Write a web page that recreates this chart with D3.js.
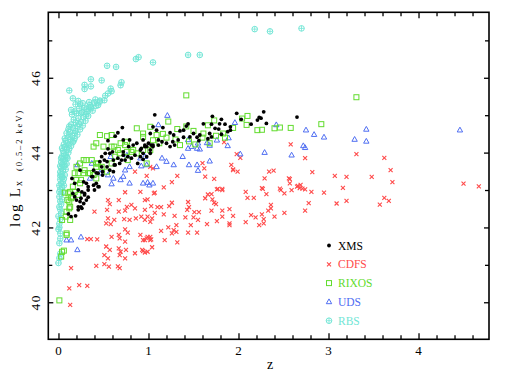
<!DOCTYPE html>
<html><head><meta charset="utf-8">
<script src="https://cdn.jsdelivr.net/npm/d3@7"></script>
<style>html,body{margin:0;padding:0;background:#fff;}svg{display:block;}</style>
</head><body>
<script>
// ---------------- data ----------------
const xMajorTicks = [0, 1, 2, 3, 4];
const xMinorTicks = [0.2,0.4,0.6,0.8,1.2,1.4,1.6,1.8,2.2,2.4,2.6,2.8,3.2,3.4,3.6,3.8,4.2,4.4,4.6];
const yMajorTicks = [40, 42, 44, 46];
const yMinorTicks = [41, 43, 45, 47];
const seriesNames = ["XMS", "CDFS", "RIXOS", "UDS", "RBS"];

const xmsData = [
[2.65,44.95],[1.07,45.01],[1.71,44.97],[1.98,45.05],[2.03,44.89],[2.28,45.09],[2.23,44.94],[2.21,44.87],[2.31,44.78],[2.14,44.76],
[1.09,44.60],[1.16,44.67],[1.44,44.77],[1.42,44.71],[1.39,44.60],[1.35,44.58],[1.61,44.77],[1.70,44.76],[1.79,44.77],[1.85,44.76],
[1.74,44.65],[1.78,44.63],[1.91,44.69],[1.91,44.60],[1.88,44.56],[1.81,44.49],[1.68,44.51],[1.70,44.42],[1.66,44.37],[1.57,44.47],
[1.54,44.41],[1.56,44.32],[1.50,44.51],[1.46,44.42],[1.39,44.41],[1.33,44.34],[1.28,44.47],[1.24,44.53],[1.27,44.29],[1.20,44.25],
[1.24,44.16],[1.29,44.20],[1.15,44.29],[1.11,44.20],[1.05,44.20],[1.00,44.25],[0.96,44.20],[0.92,44.11],[1.02,44.07],[0.94,43.98],
[0.98,43.89],[0.94,43.82],
[0.55,44.10],[0.51,43.80],[0.48,43.62],[0.42,43.46],[0.38,43.36],[0.33,43.09],[0.29,42.91],[0.25,42.78],[0.18,43.18],[0.16,42.91],
[0.14,42.29],[0.19,42.31],[0.22,42.47],[0.33,42.81],[0.40,43.00],[0.44,43.09],[0.49,43.40],[0.61,43.49],[0.62,43.67],[0.70,43.80],
[0.77,43.89],[0.85,43.93],[0.88,43.71],[0.72,44.02],[0.83,44.20],[0.96,44.16],[1.03,44.20],[0.11,42.36],[0.25,42.55],
[0.71,44.67],[0.66,44.53],[0.63,44.44],[0.55,44.32],[0.57,43.98],[0.60,44.02],[0.52,43.98],[0.48,43.89],[0.46,43.76],[0.49,43.49],
[0.44,43.45],[0.39,43.53],[0.37,43.36],[0.31,43.18],[0.28,43.22],[0.24,43.53],[0.22,43.00],[0.26,42.95],[0.29,42.87],[0.33,43.00],
[0.39,43.13],[0.42,43.18],[0.45,43.09],[0.20,42.73],[0.24,42.69],[0.28,42.64],[0.31,42.73],[0.18,42.82],[0.22,42.55],[0.26,42.51],
[0.72,44.34],[0.79,44.34],[0.78,44.16],[0.87,44.25],[0.91,44.07],[0.98,44.16],[1.02,43.98],[1.05,44.16],[1.11,44.34],[0.94,44.34],
[1.05,44.69],[1.02,44.51],[0.91,43.89],[0.81,43.85],[0.74,43.80],[0.68,43.71],[0.63,43.67],[0.57,43.53],[0.54,43.62],[0.72,43.93],
[0.66,43.85],[0.61,43.80],[0.54,43.76],[0.15,43.31],[1.81,44.89],[2.25,44.92]
];

const cdfsData = [
[2.58,44.22],[2.74,43.85],[3.31,43.96],[3.62,43.86],[3.69,43.53],[2.82,43.48],[3.07,43.38],[3.20,43.35],[3.48,43.35],[3.71,43.21],
[4.50,43.17],[4.67,43.10],[2.57,43.29],[2.69,43.14],[2.57,43.18],[2.68,43.05],[2.59,43.00],[2.74,43.02],[2.81,42.95],[2.95,42.93],
[3.16,43.06],[3.62,42.79],[3.67,42.71],[3.57,42.61],[3.20,42.71],[3.09,42.64],[2.78,42.65],[2.74,42.45],
[1.84,44.28],[2.02,43.86],[1.98,43.96],[1.60,43.72],[1.62,43.58],[1.92,43.67],[1.94,43.55],[2.34,43.49],[2.39,43.52],[1.05,43.58],
[1.02,43.62],[0.98,43.38],[1.32,43.38],[1.73,43.30],[2.29,43.31],[2.56,43.31],[1.26,43.21],[1.17,43.07],[1.77,43.03],[1.82,43.03],
[2.26,43.05],[2.46,43.04],[2.65,43.09],[2.71,43.04],
[0.85,43.49],[0.74,42.94],[0.67,42.73],[0.96,42.73],[0.99,42.75],[1.07,42.93],[0.57,42.62],[0.40,42.42],[0.54,42.47],[0.67,42.42],
[0.74,42.45],[0.85,42.51],[0.96,42.47],[0.55,42.24],[0.62,42.20],[0.73,42.22],[0.79,42.20],[0.86,42.24],[0.96,42.20],[0.99,42.29],
[0.53,42.11],[0.58,42.09],[0.74,41.95],[0.77,41.86],[0.67,41.80],[0.59,41.75],[0.68,41.71],[0.74,41.62],[0.99,41.75],[1.03,41.68],
[0.96,41.66],[0.32,41.69],[0.36,41.69],[0.43,41.68],[0.53,41.49],[0.57,41.40],[0.67,41.44],[0.69,41.35],[0.75,41.40],[0.85,41.31],
[0.93,41.40],[0.99,41.35],[0.51,41.26],[0.55,41.17],[0.68,41.26],[0.74,41.17],[0.51,41.02],[0.56,40.95],[0.42,40.97],[0.66,40.96],
[0.68,40.91],[0.14,40.91],[0.12,40.37],[0.23,40.46],[0.32,40.44],[0.13,39.93],
[1.63,43.36],[1.06,42.91],[1.03,42.57],[1.10,42.54],[1.07,42.39],[1.14,42.54],[1.23,42.57],[1.26,42.66],[1.44,42.68],[1.45,42.54],
[1.43,42.47],[1.29,42.31],[1.41,42.27],[1.51,42.41],[1.56,42.41],[1.50,42.27],[1.55,42.20],[1.47,42.06],[1.65,42.09],[0.92,42.29],
[1.04,42.24],[1.02,42.15],[1.17,42.35],[1.22,42.00],[1.31,42.06],[1.14,41.91],[1.26,41.84],[1.31,41.88],[1.28,41.93],[1.44,41.86],
[1.54,41.86],[0.91,41.80],[0.98,41.71],[1.02,41.75],[0.94,41.66],[1.02,41.66],[1.18,41.66],[1.32,41.60],[1.04,41.47],[0.94,41.37],
[0.96,41.33],[1.63,42.78],[1.66,42.88],[1.70,42.89],[1.71,42.75],[1.73,42.66],[1.75,42.62],[1.76,43.02],[1.82,43.00],[1.70,42.45],
[1.82,42.45],[1.90,42.49],[1.82,42.29],[1.76,42.17],[1.94,42.31],[1.90,42.11],[1.90,42.06],[2.08,42.95],[2.10,42.79],[2.17,42.79],
[2.08,42.14],[2.14,42.33],[2.19,42.27],[2.23,42.06],[2.27,43.03],[2.31,42.89],[2.26,42.35],[2.28,42.22],[2.28,42.11],[2.33,42.45],
[2.36,42.60],[2.36,42.51],[2.40,42.29],[2.51,42.39],[2.47,43.00],[2.51,42.91],[2.66,43.11],[1.94,43.53],[1.99,43.49],
[0.91,42.95],[0.55,42.73],[0.81,42.60],[0.76,42.55]
];

const rixosData = [
[3.31,45.48],[2.92,44.76],[2.58,44.66],
[1.42,45.53],[2.10,44.98],[2.04,44.91],[1.22,44.83],[1.73,44.86],[1.66,44.73],[1.94,44.66],[2.09,44.74],[2.21,44.60],[2.26,44.61],
[2.40,44.65],[2.46,44.67],[1.32,44.63],[1.42,44.70],[1.16,44.50],[1.50,44.58],[1.61,44.51],[1.83,44.51],[0.94,44.42],[1.05,44.33],
[0.01,40.05],[0.09,41.84],[0.04,41.35],[0.03,41.22],[0.04,42.20],[0.09,42.42],[0.11,42.91],[0.14,42.78],[0.18,43.45],[0.25,43.27],
[0.29,43.53],[0.35,43.45],[0.42,43.62],[0.44,43.71],[0.62,44.16],[0.66,44.07],[0.74,44.20],[0.81,44.02],[0.77,43.80],
[0.46,44.47],[0.54,44.44],[0.59,44.47],[1.02,44.69],[0.87,44.65],[0.94,44.51],[1.09,44.47],[0.76,44.29],[0.69,44.25],[0.39,44.16],
[0.42,44.25],[0.50,44.16],[0.59,44.16],[0.28,43.80],[0.31,43.80],[0.37,43.80],[0.42,43.71],[0.48,43.62],[0.54,43.49],[0.22,43.45],
[0.28,43.45],[0.33,43.45],[0.39,43.40],[0.42,43.31],[0.20,43.27],[0.24,43.18],[0.16,43.09],[0.13,42.95],[0.18,42.95],[0.22,42.87],
[0.16,42.82],[0.12,42.69],[0.13,42.55],[0.94,44.07],[1.02,44.07],[0.87,43.98],[0.83,44.07],[0.76,44.02],[0.68,43.98],[0.63,43.89],
[0.98,43.71],[0.59,43.71],[0.24,43.71],[0.20,43.62],
[0.07,42.93],[0.10,42.73],[0.12,42.51],[0.08,42.29],[0.13,42.20],[0.09,41.80],[0.06,41.38],
[1.30,44.35],[1.45,44.30],[1.60,44.40],[1.20,44.40],[1.35,44.20],[1.75,44.45],[1.85,44.40],[1.52,44.22],[1.12,44.25],[1.68,44.25]
];

const udsData = [
[2.75,44.60],[2.84,44.48],[2.95,44.41],[3.42,44.62],[3.29,44.35],[3.42,44.30],[4.46,44.60],[2.72,44.18],[2.74,44.13],[2.59,43.93],
[1.21,44.99],[1.11,44.74],[1.96,44.80],[2.42,44.74],[1.89,44.39],[1.76,44.33],[1.65,44.26],[1.44,44.34],[1.55,44.25],[1.88,44.18],
[1.68,44.19],[1.54,44.11],[1.57,44.09],[1.48,44.16],[1.44,44.11],[2.29,44.00],[2.02,43.96],[1.15,43.85],[1.38,43.89],[1.68,43.77],
[1.54,43.67],[1.45,43.67],[1.28,43.67],[1.20,43.76],[1.55,43.52],[0.99,43.20],[1.01,43.13],[0.92,43.64],
[0.21,43.67],[0.09,41.66],[0.14,41.66],[0.25,41.74],[0.21,41.40],[0.55,43.40],[0.61,43.31],[0.72,43.36],[0.79,43.18],[0.94,43.18],
[1.05,43.18],[0.59,43.16],[0.74,43.53],
[0.58,43.89],[0.76,43.93],[0.91,43.85],[0.96,43.89],[0.79,43.62],[0.98,43.67],[1.09,43.62],[0.69,43.27],[0.46,43.45],
[0.35,43.31],[0.37,43.71]
];

const rbsData = [
[2.18,47.30],[2.35,47.24],[2.70,47.32],[1.44,46.61],[1.57,46.61],[0.86,46.50],[0.89,46.55],[1.05,46.41],[0.54,46.32],[0.64,46.29],
[0.36,45.96],[0.48,45.93],[0.29,45.81],[0.36,45.77],[0.29,45.70],[0.70,45.88],[0.69,45.80],[0.58,45.71],[0.59,45.64],[0.52,45.52],
[0.12,45.66],[0.16,45.45],[0.41,45.42],[0.46,45.39],[0.19,45.29],[0.24,45.29],[0.35,45.27],[0.31,45.16],[0.14,45.14],
[0.55,45.58],[0.51,45.40],[0.44,45.27],[0.36,45.18],[0.25,45.05],
[0.00,41.05],[0.01,41.18],[0.02,41.30],[0.01,41.58],[0.02,41.84],[0.00,41.95],[0.01,42.10],[0.02,42.22],[0.03,42.38],[0.01,42.55],
[0.02,42.48],[0.03,42.62],[0.00,42.30],[0.01,42.00],[0.02,41.70],
[0.02,42.70],[0.04,42.75],[0.01,42.82],[0.03,42.90],[0.05,42.95],[0.02,43.02],[0.04,43.08],[0.01,43.12],[0.03,43.18],[0.05,43.22],
[0.02,43.28],[0.06,43.30],[0.04,43.35],[0.03,43.42],[0.07,43.40],[0.01,42.95],[0.02,43.38],[0.06,43.12],
[0.02,43.48],[0.05,43.50],[0.08,43.55],[0.03,43.58],[0.06,43.62],[0.04,43.68],[0.09,43.70],[0.03,43.75],[0.07,43.78],[0.05,43.82],
[0.10,43.85],[0.04,43.90],[0.08,43.93],[0.06,43.98],[0.11,44.00],[0.02,43.64],[0.07,43.66],[0.03,43.85],[0.09,43.88],
[0.05,44.05],[0.09,44.08],[0.12,44.10],[0.07,44.15],[0.14,44.18],[0.06,44.22],[0.10,44.25],[0.16,44.28],[0.08,44.32],[0.13,44.35],
[0.18,44.38],[0.11,44.42],[0.15,44.45],[0.21,44.48],[0.04,44.12],[0.11,44.20],[0.07,44.38],[0.17,44.32],
[0.09,44.52],[0.13,44.55],[0.19,44.58],[0.24,44.62],[0.11,44.62],[0.16,44.66],[0.21,44.70],[0.27,44.72],[0.14,44.75],[0.19,44.80],
[0.25,44.82],[0.30,44.85],[0.17,44.88],[0.22,44.92],[0.28,44.95],[0.33,44.98],[0.18,44.52],[0.12,44.70],[0.23,44.76],
[0.15,45.02],[0.20,45.05],[0.26,45.08],[0.32,45.10],[0.38,45.12],[0.23,45.18],[0.29,45.20],[0.36,45.22],[0.42,45.25],[0.27,45.32],
[0.34,45.35],[0.40,45.33],[0.46,45.36],[0.22,45.38],[0.18,45.10],[0.31,45.02]
];

// ---------------- chart ----------------
const W = 507, H = 377;
const colors = {XMS:"#000000", CDFS:"#ff4a4a", RIXOS:"#62dc2e", UDS:"#4f6ef2", RBS:"#72e6d6"};
const serif = "'Liberation Serif','Times New Roman',serif";

const svg = d3.select("body").append("svg").attr("width", W).attr("height", H)
  .style("background", "#fff");

const x = d3.scaleLinear().domain([-0.113, 4.783]).range([48.3, 489]);
const y = d3.scaleLinear().domain([39.01, 47.75]).range([339.3, 12.3]);
const [x0, x1] = x.range();
const [y0, y1] = y.range();

// ticks (inward, all four sides)
function axisG(axis, tx, ty) {
  const g = svg.append("g").attr("transform", `translate(${tx},${ty})`).call(axis);
  g.select(".domain").remove();
  g.selectAll(".tick line").attr("stroke", "#000").attr("stroke-width", 1.3);
  g.selectAll(".tick text").remove();
  return g;
}
axisG(d3.axisBottom(x).tickValues(xMajorTicks).tickSize(-6), 0, y0);
axisG(d3.axisBottom(x).tickValues(xMinorTicks).tickSize(-4), 0, y0);
axisG(d3.axisTop(x).tickValues(xMajorTicks).tickSize(-6), 0, y1);
axisG(d3.axisTop(x).tickValues(xMinorTicks).tickSize(-4), 0, y1);
axisG(d3.axisLeft(y).tickValues(yMajorTicks).tickSize(-5), x0, 0);
axisG(d3.axisLeft(y).tickValues(yMinorTicks).tickSize(-4), x0, 0);
axisG(d3.axisRight(y).tickValues(yMajorTicks).tickSize(-5), x1, 0);
axisG(d3.axisRight(y).tickValues(yMinorTicks).tickSize(-4), x1, 0);

// frame
svg.append("rect").attr("x", x0).attr("y", y1).attr("width", x1 - x0).attr("height", y0 - y1)
  .attr("fill", "none").attr("stroke", "#000").attr("stroke-width", 1.6);

// tick labels
svg.append("g").selectAll("text").data(xMajorTicks).join("text")
  .attr("x", d => x(d)).attr("y", 355)
  .attr("text-anchor", "middle").attr("font-family", serif).attr("font-size", 13)
  .text(d => d);
svg.append("g").selectAll("text").data(yMajorTicks).join("text")
  .attr("transform", d => `translate(40,${y(d)}) rotate(-90)`)
  .attr("text-anchor", "middle").attr("font-family", serif).attr("font-size", 13.5)
  .attr("letter-spacing", 1.5)
  .text(d => d);

// axis titles
svg.append("text").attr("x", 270).attr("y", 369).attr("text-anchor", "middle")
  .attr("font-family", serif).attr("font-size", 14).text("z");
const yl = svg.append("g").attr("transform", "translate(20,0) rotate(-90)");
yl.append("text").attr("x", -227).attr("y", 0).attr("font-family", serif).attr("font-size", 15)
  .attr("textLength", 39).attr("lengthAdjust", "spacing").text("log L");
yl.append("text").attr("x", -186).attr("y", 2).attr("font-family", serif).attr("font-size", 10).text("x");
yl.append("text").attr("x", -171).attr("y", 1.5).attr("font-family", serif).attr("font-size", 8.5)
  .attr("textLength", 60).attr("lengthAdjust", "spacing").text("(0.5\u20132 keV)");

// markers
const markers = {
  XMS: g => g.append("circle").attr("r", 1.9).attr("fill", colors.XMS),
  CDFS: g => g.append("path").attr("d", "M-2,-2L2,2M-2,2L2,-2")
          .attr("stroke", colors.CDFS).attr("stroke-width", 1.1).attr("fill", "none"),
  RIXOS: g => g.append("rect").attr("x", -2.5).attr("y", -2.5).attr("width", 5).attr("height", 5)
          .attr("stroke", colors.RIXOS).attr("stroke-width", 1).attr("fill", "none"),
  UDS: g => g.append("path").attr("d", "M0,-3L2.7,1.8L-2.7,1.8Z")
          .attr("stroke", colors.UDS).attr("stroke-width", 1).attr("fill", "none"),
  RBS: g => { g.append("circle").attr("r", 2.8).attr("stroke", colors.RBS).attr("stroke-width", 1).attr("fill", "none");
              g.append("path").attr("d", "M-2.8,0H2.8M0,-2.8V2.8").attr("stroke", colors.RBS).attr("stroke-width", 0.8); }
};
const seriesData = {XMS: xmsData, CDFS: cdfsData, RIXOS: rixosData, UDS: udsData, RBS: rbsData};
const drawOrder = ["RBS", "CDFS", "UDS", "RIXOS", "XMS"];
drawOrder.forEach(name => {
  const g = svg.append("g").attr("class", name);
  g.selectAll("g").data(seriesData[name]).join("g")
    .attr("transform", d => `translate(${x(d[0])},${y(d[1])})`)
    .each(function() { markers[name](d3.select(this)); });
});

// legend
const legend = svg.append("g");
seriesNames.forEach((name, i) => {
  const ly = 245.5 + i * 18.8;
  const mg = legend.append("g").attr("transform", `translate(329,${ly})`);
  markers[name](mg);
  legend.append("text").attr("x", 338).attr("y", ly + 4).attr("font-family", serif).attr("font-size", 11.5)
    .attr("fill", name === "XMS" ? "#000" : colors[name]).text(name);
});
</script>
</body></html>
